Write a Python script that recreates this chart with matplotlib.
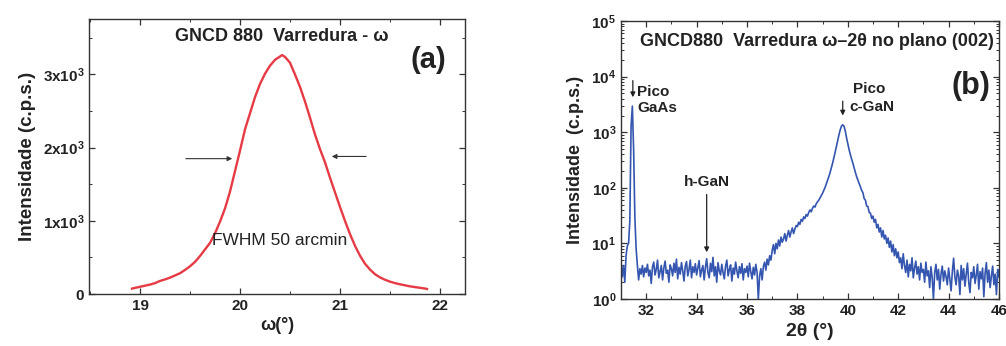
import numpy as np
import matplotlib
matplotlib.use("Agg")
from matplotlib import pyplot as plt
from matplotlib.ticker import MultipleLocator, FixedLocator, LogLocator, NullFormatter

plt.rcParams['font.family'] = ['Liberation Sans', 'DejaVu Sans']
plt.rcParams['font.weight'] = 'bold'
plt.rcParams['mathtext.fontset'] = 'custom'
plt.rcParams['mathtext.rm'] = 'Liberation Sans:bold'
plt.rcParams['mathtext.bf'] = 'Liberation Sans:bold'
plt.rcParams['mathtext.it'] = 'Liberation Sans:bold'

# (a) omega rocking curve
omega = [18.92, 18.95, 19.00, 19.05, 19.10, 19.15, 19.20, 19.25, 19.30, 19.35,
         19.40, 19.45, 19.50, 19.55, 19.60, 19.65, 19.70, 19.75, 19.80, 19.85,
         19.90, 19.95, 20.00, 20.05, 20.10, 20.15, 20.20, 20.25, 20.30, 20.35,
         20.40, 20.42, 20.45, 20.50, 20.55, 20.60, 20.65, 20.70, 20.75, 20.80,
         20.85, 20.90, 20.95, 21.00, 21.05, 21.10, 21.15, 21.20, 21.25, 21.30,
         21.35, 21.40, 21.45, 21.50, 21.55, 21.60, 21.65, 21.70, 21.75, 21.80,
         21.85, 21.87]
counts_a = [75, 85, 100, 115, 130, 150, 180, 200, 225, 255,
            285, 330, 380, 440, 520, 610, 700, 830, 990, 1170,
            1400, 1680, 1960, 2250, 2470, 2690, 2870, 3010, 3120, 3200,
            3245, 3265, 3240, 3160, 3000, 2830, 2630, 2410, 2180, 1980,
            1800, 1590, 1390, 1190, 1000, 820, 660, 525, 415, 335,
            272, 228, 196, 170, 150, 134, 120, 106, 96, 86,
            76, 70]

# (b) omega-2theta scan, step 0.05 deg
two_theta = np.round(np.arange(31.0, 46.001, 0.05), 2)
counts_b = [
    4.5, 2.5, 4.0, 2.0, 6.0, 9.0, 10.0, 25, 1300, 2950, 500, 30, 8.0, 4.0, 2.2, 3.5, 2.8, 4.0, 2.5, 3.6,
    3.0, 4.2, 2.6, 3.3, 1.9, 3.8, 4.6, 2.7, 3.4, 5.0, 2.4, 3.1, 4.0, 2.2, 3.6, 4.8, 2.9, 3.3, 2.0, 4.1,
    3.5, 2.6, 4.4, 3.0, 5.2, 2.3, 3.7, 2.8, 4.5, 3.2, 2.1, 3.9, 4.7, 2.6, 3.4, 5.0, 2.4, 3.8, 3.0, 4.3,
    2.7, 3.6, 4.9, 2.5, 3.3, 4.0, 2.2, 3.7, 5.3, 3.0, 2.4, 4.4, 3.1, 5.6, 2.6, 3.8, 2.0, 4.5, 3.2, 2.7,
    4.2, 3.0, 2.3, 3.9, 5.0, 2.6, 3.4, 4.1, 2.1, 3.6, 2.8, 4.6, 3.2, 2.4, 3.8, 2.9, 4.3, 2.2, 3.5, 3.0,
    3.9, 2.5, 4.4, 3.1, 2.3, 3.7, 2.7, 4.2, 3.0, 1.0, 2.6, 3.5, 2.2, 3.8, 4.6, 3.3, 5.2, 4.1, 6.0, 5.0,
    7.5, 9.5, 6.5, 10, 8.0, 11.5, 9.0, 13, 10.5, 12, 15, 11, 14, 17, 13, 16, 19, 15, 18, 21,
    20, 24, 22, 27, 25, 30, 28, 33, 31, 36, 40, 37, 43, 47, 45, 52, 56, 60, 66, 72,
    80, 90, 102, 118, 138, 160, 190, 230, 280, 350, 440, 560, 720, 900, 1100, 1290, 1360, 1280, 1060, 800,
    620, 490, 400, 330, 280, 230, 190, 160, 138, 120, 105, 90, 82, 64, 60, 47, 46, 36, 35, 28,
    31, 24, 27, 19, 22, 16, 19, 13, 17, 12, 14, 10, 12.5, 8.5, 11, 7.0, 9.5, 6.0, 8.0, 5.5,
    7.0, 4.5, 5.5, 3.5, 6.5, 4.0, 3.0, 5.0, 2.5, 4.2, 3.2, 5.5, 2.4, 3.6, 4.8, 2.8, 3.8, 2.2, 4.4, 3.0,
    3.4, 2.0, 4.6, 2.6, 3.2, 1.6, 3.8, 2.4, 1.0, 3.0, 4.2, 2.2, 3.4, 1.5, 2.8, 3.9, 2.1, 3.2, 2.5, 1.8,
    3.6, 2.3, 1.4, 3.1, 5.4, 2.5, 1.8, 3.3, 2.6, 1.2, 4.0, 2.2, 3.5, 1.7, 2.8, 4.4, 2.0, 1.3, 3.0, 2.4,
    3.8, 1.9, 2.7, 4.2, 1.5, 3.1, 2.3, 3.6, 1.1, 2.9, 4.5, 2.0, 3.3, 1.6, 2.6, 3.9, 1.8, 2.8, 1.2, 3.4, 2.5,
]

a_yticks = [0, 1000, 2000, 3000]
a_yticklabels = ['0', r'$1x10^3$', r'$2x10^3$', r'$3x10^3$']
b_yticks = [1, 10, 100, 1000, 1e4, 1e5]
b_yticklabels = [r'$10^0$', r'$10^1$', r'$10^2$', r'$10^3$', r'$10^4$', r'$10^5$']

fig = plt.figure(figsize=(10.06, 3.46), dpi=100)
ax1 = fig.add_axes([0.0885, 0.150, 0.3737, 0.795])
ax2 = fig.add_axes([0.6173, 0.136, 0.3757, 0.803])

red = '#e63b44'
blue = '#3456b0'
ink = '#222222'

# ---- panel (a)
ax1.plot(omega, counts_a, color=red, lw=1.7)
ax1.set_xlim(18.49, 22.25)
ax1.set_ylim(0, 3757)
ax1.xaxis.set_major_locator(MultipleLocator(1))
ax1.xaxis.set_minor_locator(MultipleLocator(0.5))
ax1.yaxis.set_major_locator(FixedLocator(a_yticks))
ax1.yaxis.set_minor_locator(MultipleLocator(500))
ax1.set_yticklabels(a_yticklabels)
ax1.set_xlabel('ω(°)', fontsize=13, fontweight='bold', labelpad=3, color=ink)
ax1.set_ylabel('Intensidade (c.p.s.)', fontsize=13.5, fontweight='bold', labelpad=5, color=ink)
ax1.text(20.415, 3515, 'GNCD 880  Varredura - ω', ha='center', va='center',
         fontsize=13, fontweight='bold', color=ink)
ax1.text(21.88, 3200, '(a)', ha='center', va='center', fontsize=21, fontweight='bold', color=ink)
ax1.text(20.4, 738, 'FWHM 50 arcmin', ha='center', va='center', fontsize=12.5,
         fontweight='normal', color=ink)
ax1.annotate('', xy=(19.95, 1850), xytext=(19.43, 1850),
             arrowprops=dict(arrowstyle='-|>', lw=0.8, color='#333333', mutation_scale=7))
ax1.annotate('', xy=(20.89, 1880), xytext=(21.29, 1880),
             arrowprops=dict(arrowstyle='-|>', lw=0.8, color='#333333', mutation_scale=7))

# ---- panel (b)
ax2.plot(two_theta, counts_b, color=blue, lw=1.2)
ax2.set_yscale('log')
ax2.set_xlim(31, 46)
ax2.set_ylim(1, 1e5)
ax2.xaxis.set_major_locator(MultipleLocator(2))
ax2.xaxis.set_minor_locator(MultipleLocator(1))
ax2.yaxis.set_major_locator(FixedLocator(b_yticks))
ax2.yaxis.set_minor_locator(LogLocator(base=10, subs=np.arange(2, 10)))
ax2.yaxis.set_minor_formatter(NullFormatter())
ax2.set_yticklabels(b_yticklabels)
ax2.set_xlabel('2θ (°)', fontsize=14, fontweight='bold', labelpad=4, color=ink)
ax2.set_ylabel('Intensidade  (c.p.s.)', fontsize=13, fontweight='bold', labelpad=5, color=ink)
ax2.text(38.78, 10**4.63, 'GNCD880  Varredura ω–2θ no plano (002)', ha='center', va='center',
         fontsize=13, fontweight='bold', color=ink)
ax2.text(44.9, 10**3.83, '(b)', ha='center', va='center', fontsize=22, fontweight='bold', color=ink)
ax2.text(31.64, 10**3.58, 'Pico\nGaAs', ha='left', va='center', fontsize=11,
         fontweight='bold', color=ink, linespacing=1.15)
ax2.annotate('', xy=(31.47, 10**3.58), xytext=(31.47, 10**3.98),
             arrowprops=dict(arrowstyle='-|>', lw=0.9, color=ink, mutation_scale=7))
ax2.text(40.83, 10**3.78, 'Pico', ha='center', va='center', fontsize=11,
         fontweight='bold', color=ink)
ax2.text(40.05, 10**3.45, 'c-GaN', ha='left', va='center', fontsize=11,
         fontweight='bold', color=ink)
ax2.annotate('', xy=(39.8, 10**3.25), xytext=(39.8, 10**3.61),
             arrowprops=dict(arrowstyle='-|>', lw=0.9, color=ink, mutation_scale=7))
ax2.text(34.4, 10**2.11, 'h-GaN', ha='center', va='center', fontsize=11,
         fontweight='bold', color=ink)
ax2.annotate('', xy=(34.4, 10**0.79), xytext=(34.4, 10**1.93),
             arrowprops=dict(arrowstyle='-|>', lw=0.9, color=ink, mutation_scale=7))

for ax in (ax1, ax2):
    ax.tick_params(which='both', direction='in', top=True, right=True, colors='#333333',
                   labelcolor=ink)
    ax.tick_params(which='major', length=4, width=0.9, labelsize=11)
    ax.tick_params(which='minor', length=2.5, width=0.7)
    for lab in ax.get_xticklabels() + ax.get_yticklabels():
        lab.set_fontweight('bold')
    for sp in ax.spines.values():
        sp.set_linewidth(1.0)
        sp.set_color('#333333')

fig.savefig('out.png', dpi=100)
